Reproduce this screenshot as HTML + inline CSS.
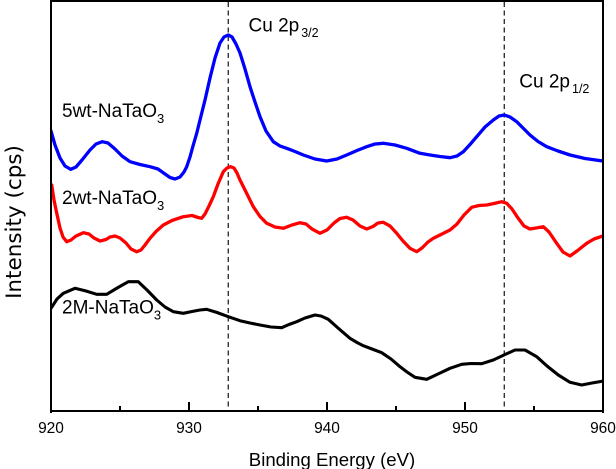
<!DOCTYPE html>
<html><head><meta charset="utf-8"><style>
html,body{margin:0;padding:0;background:#fff;}
#w{position:relative;width:616px;height:469px;overflow:hidden;}
svg{display:block;position:absolute;left:0;top:0;}
text{font-family:"Liberation Sans",Arial,sans-serif;fill:#000;}
.f{position:absolute;background:#000;}
</style></head><body>
<div id="w">
<svg width="616" height="469" viewBox="0 0 616 469" xmlns="http://www.w3.org/2000/svg">
<defs><clipPath id="c"><rect x="51" y="1" width="551.5" height="410.5"/></clipPath></defs>
<g stroke="#333" stroke-width="1.4" stroke-dasharray="5,3.5" fill="none">
<line x1="228.3" y1="2" x2="228.3" y2="411"/>
<line x1="504.3" y1="2" x2="504.3" y2="411"/>
</g>
<g clip-path="url(#c)" fill="none" stroke-width="3.3" stroke-linejoin="round" stroke-linecap="round">
<polyline stroke="#0000ff" points="51,131 55,145 60,158 65,166 70.7,169.3 76,167 82,160 90,150 96,144 102.3,141.7 108,143 115,149 122,156 130,161.7 140,164.5 150,166.7 158,169 165,174 170,177.5 175,179 180,177 184,172 186.7,166.7 190,157 193,146 196.7,133.3 200,120 205,100 210,78 215,58 220,43 224,37 228.3,35 232,37 236,44 240,53 245,69 250,86.7 255,102 260,116.7 266,131 273.3,141.7 280,146 286.7,148.3 295,151.5 303.3,155 315,159 326.7,161 337,159 346.7,155 357,150.5 366.7,146.7 375,144 383.3,143.3 395,145 406.7,148.3 420,153.3 430,155 440,156.5 450,157.7 457,156 463.3,151.7 470,144.5 476.7,136.7 485,127 493.3,120 499,116 504.3,115 510,117 516.7,121.7 523,128 530,135 538,141.5 546.7,146.7 558,151 570,155 585,158.5 603,161"/>
<polyline stroke="#ff0000" points="51.7,185 54,200 56.7,213 60,228 63,237 66.7,241.7 71,240 76,236 83.3,232.7 89,234 94,238 100,241 106,239.5 110,237 115,236 120,238 126,243 131,249 136.7,251.7 141,250 145,245 150,238.3 156,231.5 163.3,225 172,220.5 183.3,216.7 192,215.5 198,217.5 201.7,218.3 205,214 209,206 213.3,196.7 218,184 223.3,171.7 227,168 230.5,166.7 234,168 237,173 240,180 246,192 253.3,206.7 260,216.5 266.7,223.3 275,227 283.3,228.3 292,225 300,222.7 306,224 312,229 320,233.3 327,230 334,223 340,218.5 346.7,217.3 353,220 360,226 366.7,229 373,226.5 378,223 383.3,222.3 390,226 396.7,233.3 403,241 410,248.3 416.7,251.7 422,248 428,242 433.3,238.3 441,234.5 450,230 457,224 464,215 471.7,207.3 479,205.5 486.7,205 494,203.5 501.7,201.7 506.7,203.3 512,209 518,218 524,226 530,229 536,228 543.3,226.7 549,232 556.7,243.3 563,252 570,256 577,251 586.7,243.3 594,239 603,236"/>
<polyline stroke="#000" stroke-width="3.1" points="51,308.3 57,299 63.3,293.3 75,288.3 86,291 96.7,294.3 106.7,294.3 118,287.5 128.3,281.7 138.3,281.7 147,290 156.7,300 165,307 173.3,311.7 183.3,313.3 192,311.5 200,310 206.7,309.3 217,312.5 228.3,316.7 240,320.7 250,323 260,325 271,327 281.7,327.7 289,324.5 296.7,321.7 305,318 315,315 321,316 328.3,319.3 338,328 350,338.3 357,342.5 363.3,345.7 372,349 381.7,352.7 391,359 400,366.7 407,372 415,377.3 426.7,379.3 438,374 450,368.3 461.7,364.3 471,363.5 481.7,363.7 493.3,360 504,355 515,350 525,350 536.7,356.7 547,366 558.3,375 570,382.3 581.7,385 592,383 603.3,381"/>
</g>
<g font-size="15.5" text-anchor="middle">
<text x="51" y="433">920</text>
<text x="189" y="433">930</text>
<text x="327" y="433">940</text>
<text x="465" y="433">950</text>
<text x="603" y="433">960</text>
</g>
<text x="332" y="466" font-size="18.6" text-anchor="middle">Binding Energy (eV)</text>
<text transform="translate(21,222) rotate(-90)" font-size="21.5" text-anchor="middle" style="font-family:'DejaVu Sans',sans-serif">Intensity (cps)</text>
<g font-size="19">
<text x="62" y="117">5wt-NaTaO<tspan font-size="13" dy="6">3</tspan></text>
<text x="62" y="204">2wt-NaTaO<tspan font-size="13" dy="6">3</tspan></text>
<text x="62" y="313.5">2M-NaTaO<tspan font-size="13" dy="6">3</tspan></text>
<text x="248.5" y="31.5">Cu 2p<tspan font-size="12.5" dy="5.5" dx="2">3/2</tspan></text>
<text x="519.3" y="87.7">Cu 2p<tspan font-size="12.5" dy="5.5" dx="2">1/2</tspan></text>
</g>
</svg>
<div class="f" style="left:50px;top:0;width:2px;height:413px;"></div>
<div class="f" style="left:602px;top:0;width:2px;height:413px;"></div>
<div class="f" style="left:50px;top:0;width:554px;height:2px;"></div>
<div class="f" style="left:50px;top:410px;width:554px;height:2px;"></div>
<div class="f" style="left:188px;top:402px;width:2px;height:8px;"></div>
<div class="f" style="left:326px;top:402px;width:2px;height:8px;"></div>
<div class="f" style="left:464px;top:402px;width:2px;height:8px;"></div>
<div class="f" style="left:119px;top:406px;width:2px;height:4px;"></div>
<div class="f" style="left:257px;top:406px;width:2px;height:4px;"></div>
<div class="f" style="left:395px;top:406px;width:2px;height:4px;"></div>
<div class="f" style="left:533px;top:406px;width:2px;height:4px;"></div>
</div>
</body></html>
